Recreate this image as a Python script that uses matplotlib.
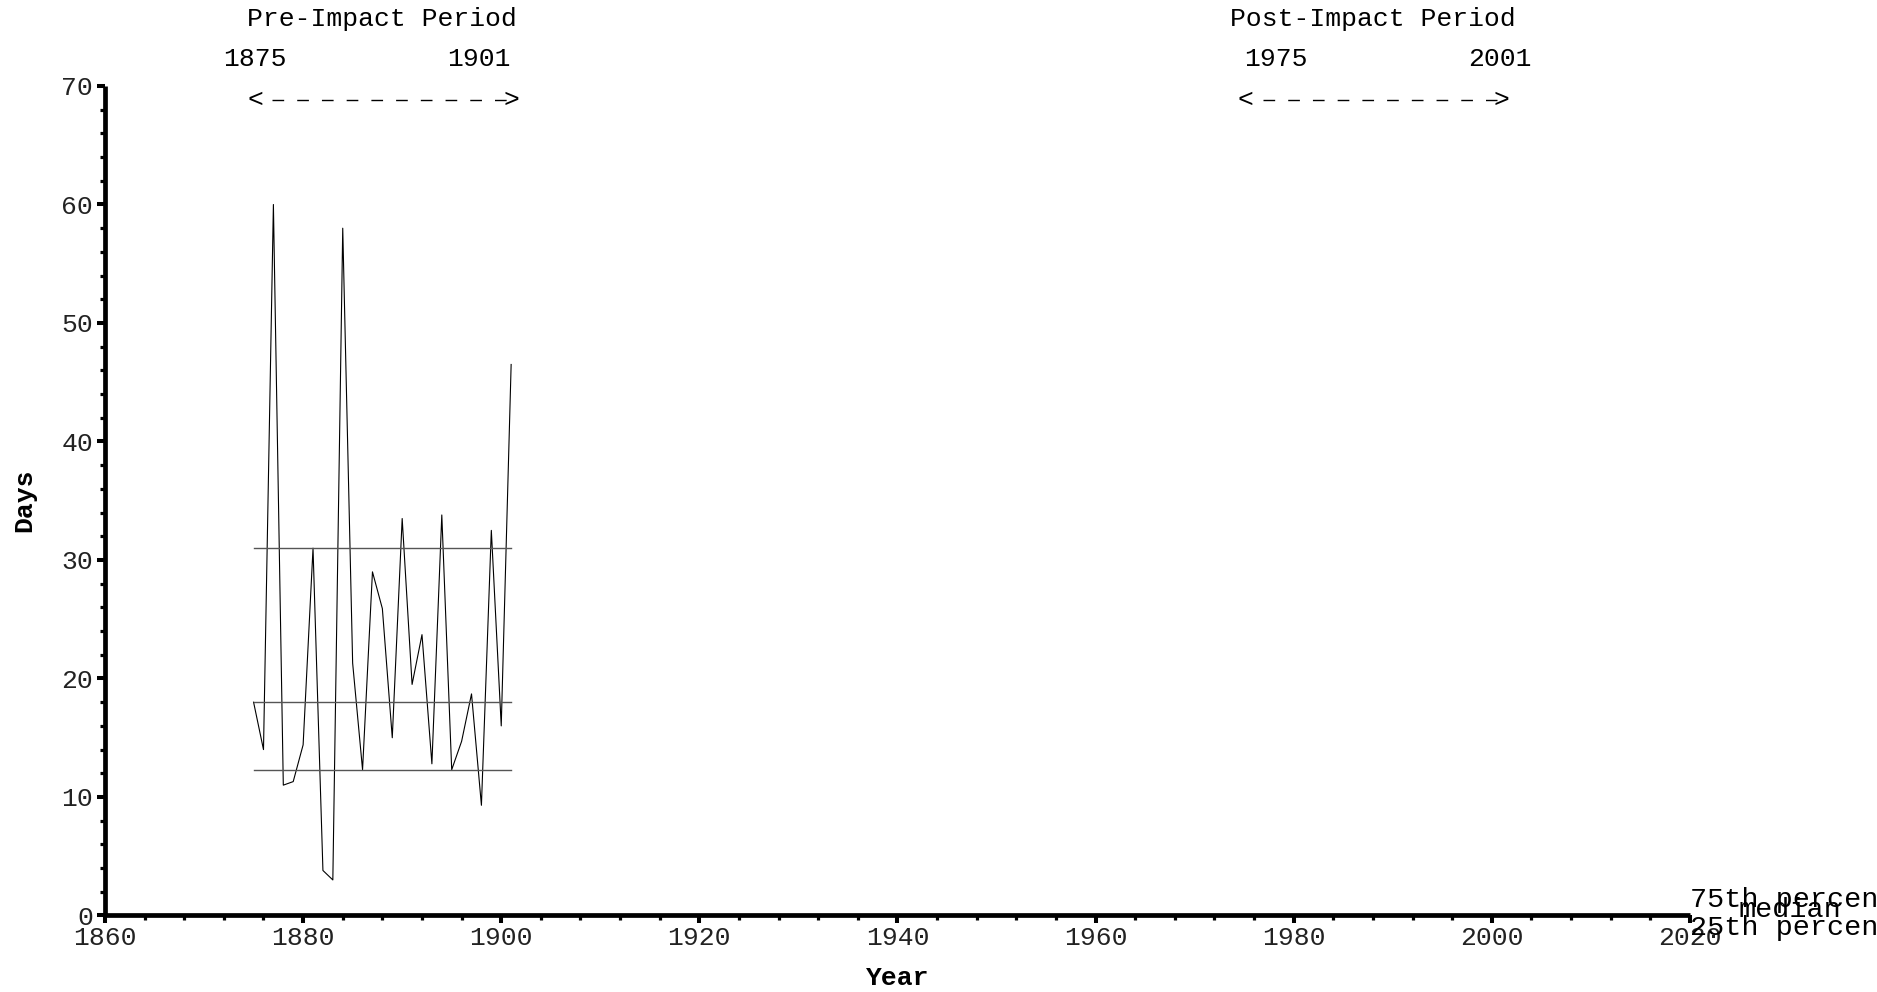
import matplotlib
matplotlib.use("Agg")
import matplotlib.pyplot as plt
from matplotlib.ticker import MultipleLocator

plt.rcParams['font.family'] = ['Liberation Mono', 'DejaVu Sans Mono']

# ---- data ----
years = list(range(1875, 1902))
days = [18.0, 14.0, 60.0, 11.0, 11.3, 14.4, 31.0, 3.8, 3.0, 58.0,
        21.3, 12.3, 29.0, 25.9, 15.0, 33.5, 19.5, 23.7, 12.8, 33.8,
        12.3, 14.7, 18.7, 9.3, 32.5, 16.0, 46.5]
pct75 = 31.0
median = 18.0
pct25 = 12.3
pre_start, pre_end = 1875, 1901
post_start, post_end = 1975, 2001
pct_labels = ["75th percentile", "median", "25th percentile"]

fig = plt.figure(figsize=(18.77, 9.92), dpi=100)
ax = fig.add_axes([0.05594, 0.07712, 0.8444, 0.83619])

ax.plot(years, days, color='black', lw=0.8)
for v in (pct75, median, pct25):
    ax.plot([pre_start, pre_end], [v, v], color='#555555', lw=1.0)

ax.set_xlim(1860, 2020)
ax.set_ylim(0, 70)
ax.xaxis.set_major_locator(MultipleLocator(20))
ax.xaxis.set_minor_locator(MultipleLocator(4))
ax.yaxis.set_major_locator(MultipleLocator(10))
ax.yaxis.set_minor_locator(MultipleLocator(2))

for s in ('top', 'right'):
    ax.spines[s].set_visible(False)
for s in ('left', 'bottom'):
    ax.spines[s].set_linewidth(3.4)
    ax.spines[s].set_capstyle('butt')

ax.tick_params(which='major', direction='out', length=5.5, width=2.9,
               labelsize=19, colors='black', labelcolor='#222222', pad=2)
ax.tick_params(which='minor', direction='out', length=3.6, width=2.3)
ax.tick_params(axis='y', which='major', pad=3)

ax.set_xlabel('Year', fontsize=19, fontweight='bold')
ax.set_ylabel('Days', fontsize=19, fontweight='bold')
ax.xaxis.label.set_va('center')
ax.yaxis.label.set_va('center')
ax.xaxis.set_label_coords(0.5, -0.0753)
ax.yaxis.set_label_coords(-0.0511, 0.5)

# period annotations
txt = dict(fontsize=19, ha='center', va='center', clip_on=False)
ax.text(1888.0, 75.65, 'Pre-Impact Period', **txt)
ax.text(1875.1, 72.24, str(pre_start), **txt)
ax.text(1897.7, 72.24, str(pre_end), **txt)
ax.text(1988.0, 75.65, 'Post-Impact Period', **txt)
ax.text(1978.2, 72.24, str(post_start), **txt)
ax.text(2000.8, 72.24, str(post_end), **txt)

# dashed range arrows "<- - - ->"
arrow_y = 68.82
for start in (pre_start, post_start):
    x0 = start + 1.86
    x1 = start + 25.55
    ax.plot([x0, x1], [arrow_y, arrow_y], color='black', lw=1.0,
            linestyle=(0, (8.4, 9.4)), dash_capstyle='butt')
    ax.text(start + 0.14, arrow_y, '<', fontsize=19, ha='center', va='center')
    ax.text(start + 26.0, arrow_y, '>', fontsize=19, ha='center', va='center')

# percentile labels at right edge
lab = dict(fontsize=20.5, ha='left', va='center', clip_on=False)
ax.text(2020.0, 1.31, pct_labels[0], **lab)
ax.text(2024.9, 0.46, pct_labels[1], **lab)
ax.text(2020.0, -1.05, pct_labels[2], **lab)

fig.savefig('out.png', dpi=100)
